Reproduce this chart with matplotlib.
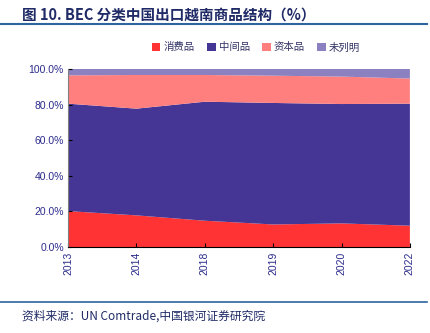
import matplotlib.pyplot as plt
import numpy as np

plt.rcParams['font.family'] = ['Noto Sans CJK SC', 'DejaVu Sans']

years = ['2013', '2014', '2018', '2019', '2020', '2022']
consumer = [20.2, 17.8, 14.8, 12.7, 13.3, 12.0]
intermediate = [60.3, 59.9, 66.8, 68.2, 67.0, 68.5]
capital = [15.9, 18.9, 15.0, 15.3, 15.4, 14.1]
unspecified = [3.6, 3.4, 3.4, 3.8, 4.3, 5.4]

labels = ['消费品', '中间品', '资本品', '未列明']
colors = ['#FF3333', '#453594', '#FF7F7F', '#8B80C0']
tick_color = '#2B2B8C'

fig = plt.figure(figsize=(4.31, 3.33), dpi=100)
ax = fig.add_axes([0.158, 0.258, 0.793, 0.535])

x = np.arange(len(years))
ax.stackplot(x, consumer, intermediate, capital, unspecified,
             colors=colors, labels=labels, linewidth=0)

ax.set_xlim(x[0], x[-1])
ax.set_ylim(0, 100)
ax.set_xticks(x)
ax.set_xticklabels(years, rotation=90, fontsize=7.5, color=tick_color,
                   family='Liberation Sans')
ax.set_yticks(np.arange(0, 101, 20))
ax.set_yticklabels(['%.1f%%' % v for v in np.arange(0, 101, 20)],
                   fontsize=7.5, color=tick_color, family='Liberation Sans')
ax.tick_params(direction='in', length=3, width=0.8, pad=3)
for s in ['top', 'right']:
    ax.spines[s].set_visible(False)
ax.spines['left'].set_color('#808080')
ax.spines['bottom'].set_color('black')

ax.legend(loc='lower center', bbox_to_anchor=(0.55, 1.04), ncol=4,
          frameon=False, fontsize=7.5, handlelength=0.8, handleheight=0.8,
          handletextpad=0.3, columnspacing=1.2, labelcolor='#333366')

# title and rules
fig.text(0.051, 0.955, '图 10. BEC 分类中国出口越南商品结构（%）', fontsize=10.5,
         fontweight='bold', color='#1F2A66', va='center', ha='left')
fig.add_artist(plt.Line2D([0.0, 0.99], [0.928, 0.928], color='#2E64A0',
                          linewidth=1.5))
fig.add_artist(plt.Line2D([0.0, 0.99], [0.093, 0.093], color='#2E64A0',
                          linewidth=1.2))
fig.text(0.051, 0.05, '资料来源：UN Comtrade,中国银河证券研究院', fontsize=8.5,
         style='italic', color='#1F2A66', va='center', ha='left')

fig.savefig('out.png', dpi=100)
